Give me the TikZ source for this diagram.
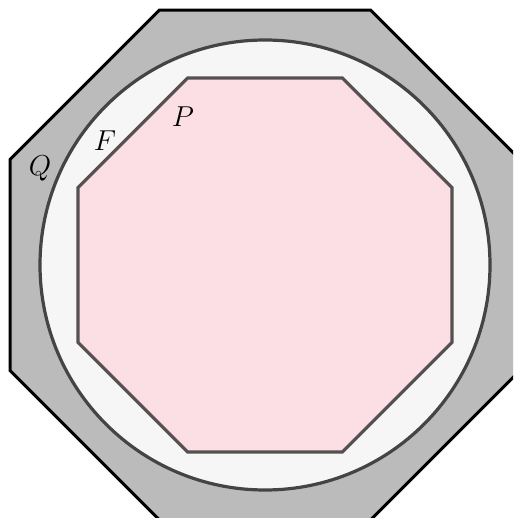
\documentclass[tikz,border=0pt]{standalone}
\definecolor{qgray}{HTML}{BBBBBB}
\definecolor{fwhite}{HTML}{F6F6F6}
\definecolor{ppink}{HTML}{FBDFE5}
\definecolor{edgegray}{HTML}{444444}
\tikzset{
  qface/.style={fill=qgray,draw=black,line width=1.5pt,line join=miter},
  fface/.style={fill=fwhite,draw=edgegray,line width=1.6pt},
  pface/.style={fill=ppink,draw=edgegray!90!pink,line width=1.6pt,line join=miter},
  lab/.style={font=\Large}
}
\begin{document}
\begin{tikzpicture}[x=0.5pt,y=-0.5pt]
  \useasboundingbox (0,0) rectangle (513,518);
  \clip (0,0) rectangle (513,518);
  \begin{scope}[shift={(265,265)}]
    % outer octagon Q (apothem 255)
    \draw[qface] (22.5:276) \foreach \a in {67.5,112.5,...,337.5} { -- (\a:276) } -- cycle;
    % circle F
    \draw[fface] (0,0) circle (225);
    % inner octagon P (apothem 187)
    \draw[pface] (22.5:202.4) \foreach \a in {67.5,112.5,...,337.5} { -- (\a:202.4) } -- cycle;
  \end{scope}
  \node[lab] (q) at (40,168) {$Q$};
  \node[lab] (f) at (105,141) {$F$};
  \node[lab] (p) at (183,117) {$P$};
\end{tikzpicture}
\end{document}
